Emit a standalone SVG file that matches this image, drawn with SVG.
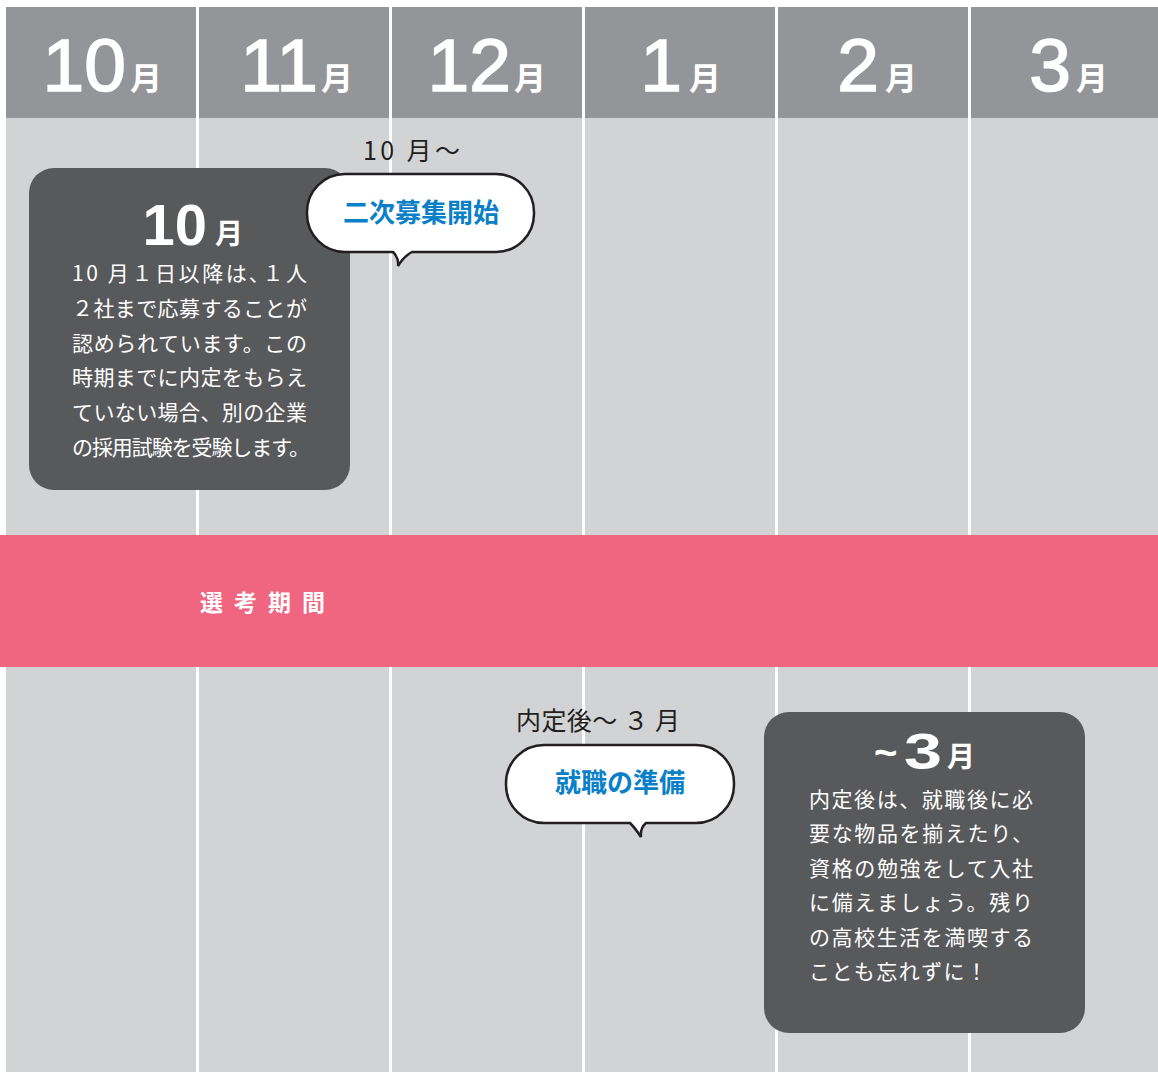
<svg xmlns="http://www.w3.org/2000/svg" width="1158" height="1072" viewBox="0 0 1158 1072">
<style>
.num{font-family:"Liberation Sans",Arial,sans-serif;font-weight:bold;fill:#fff}
.hnum{font-family:"Liberation Sans",Arial,sans-serif;fill:#fff;stroke:#fff;stroke-width:1.6;font-size:75px;text-anchor:end}
.mon{font-family:"Noto Sans CJK JP",sans-serif;font-weight:bold;fill:#fff}
.card{fill:#58595b}
.body{font-family:"Noto Sans CJK JP",sans-serif;fill:#fff;font-size:21px}
.bub{fill:#fff;stroke:#231f20;stroke-width:2.5}
.btxt{font-family:"Noto Sans CJK JP",sans-serif;font-weight:bold;fill:#0a80c8;font-size:26px;text-anchor:middle}
.lbl{font-family:"Noto Sans CJK JP",sans-serif;fill:#231f20;font-size:25px}
.sep{stroke:#fff;stroke-width:3}
</style>
<rect x="0" y="0" width="1158" height="1072" fill="#fff"/>
<g id="background">
<rect x="6" y="7" width="1152" height="1065" fill="#d1d3d4"/>
<rect x="6" y="7" width="1152" height="111" fill="#939598"/>
</g>
<g id="connectors">
<line class="sep" x1="197.5" y1="0" x2="197.5" y2="1072"/>
<line class="sep" x1="390.5" y1="0" x2="390.5" y2="1072"/>
<line class="sep" x1="583.5" y1="0" x2="583.5" y2="1072"/>
<line class="sep" x1="776.5" y1="0" x2="776.5" y2="1072"/>
<line class="sep" x1="969.5" y1="0" x2="969.5" y2="1072"/>
</g>
<g id="header">
<text class="hnum" x="126" y="91">10</text><text class="mon" x="130" y="90" font-size="32">月</text>
<text class="hnum" x="318" y="91">11</text><text class="mon" x="321" y="90" font-size="32">月</text>
<text class="hnum" x="511" y="91">12</text><text class="mon" x="514" y="90" font-size="32">月</text>
<text class="hnum" x="682" y="91">1</text><text class="mon" x="689" y="90" font-size="32">月</text>
<text class="hnum" x="879" y="91">2</text><text class="mon" x="885" y="90" font-size="32">月</text>
<text class="hnum" x="1071" y="91">3</text><text class="mon" x="1076" y="90" font-size="32">月</text>
</g>
<g id="band">
<rect x="0" y="535" width="1158" height="132" fill="#f06680"/>
<text x="200" y="611" font-family="Noto Sans CJK JP,sans-serif" font-weight="bold" font-size="23" fill="#fff" letter-spacing="11">選考期間</text>
</g>
<g id="card-oct">
<rect class="card" x="29" y="168" width="321" height="322" rx="25"/>
<text class="num" x="207" y="245" font-size="58" text-anchor="end">10</text><text class="mon" x="215" y="244" font-size="28">月</text>
<text class="body" x="72" y="281" textLength="235" lengthAdjust="spacing">10 月１日以降は､１人</text>
<text class="body" x="72" y="316" textLength="235" lengthAdjust="spacing">２社まで応募することが</text>
<text class="body" x="72" y="351" textLength="235" lengthAdjust="spacing">認められています。この</text>
<text class="body" x="72" y="385" textLength="235" lengthAdjust="spacing">時期までに内定をもらえ</text>
<text class="body" x="72" y="420" textLength="235" lengthAdjust="spacing">ていない場合、別の企業</text>
<text class="body" x="72" y="455" textLength="238" lengthAdjust="spacing">の採用試験を受験します。</text>
</g>
<g id="bubble-second">
<text class="lbl" x="363" y="160" textLength="97" lengthAdjust="spacing">10 月〜</text>
<path class="bub" d="M345,174 H496 A38,38 0 0 1 534,212 V214 A38,38 0 0 1 496,252 H412 Q404,256 398,266 Q399,258 393,252 H345 A38,38 0 0 1 307,214 V212 A38,38 0 0 1 345,174 Z"/>
<text class="btxt" x="421" y="222">二次募集開始</text>
</g>
<g id="bubble-prep">
<text class="lbl" x="516" y="730" textLength="164" lengthAdjust="spacing">内定後〜 ３ 月</text>
<path class="bub" d="M544,745 H696 A38,38 0 0 1 734,783 V785 A38,38 0 0 1 696,823 H646 Q640,828 641,837 Q635,828 630,823 H544 A38,38 0 0 1 506,785 V783 A38,38 0 0 1 544,745 Z"/>
<text class="btxt" x="620" y="792">就職の準備</text>
</g>
<g id="card-mar">
<rect class="card" x="764" y="712" width="321" height="321" rx="25"/>
<text class="num" x="874" y="766" font-size="40">~</text>
<text class="num" x="942" y="769" font-size="50" text-anchor="end" textLength="38" lengthAdjust="spacingAndGlyphs">3</text><text class="mon" x="947" y="767" font-size="28">月</text>
<text class="body" x="809" y="807" font-size="22" textLength="224" lengthAdjust="spacing">内定後は、就職後に必</text>
<text class="body" x="809" y="841" font-size="22" textLength="224" lengthAdjust="spacing">要な物品を揃えたり、</text>
<text class="body" x="809" y="876" font-size="22" textLength="224" lengthAdjust="spacing">資格の勉強をして入社</text>
<text class="body" x="809" y="910" font-size="22" textLength="224" lengthAdjust="spacing">に備えましょう。残り</text>
<text class="body" x="809" y="945" font-size="22" textLength="224" lengthAdjust="spacing">の高校生活を満喫する</text>
<text class="body" x="809" y="979" font-size="22" textLength="178" lengthAdjust="spacing">ことも忘れずに！</text>
</g>
</svg>
